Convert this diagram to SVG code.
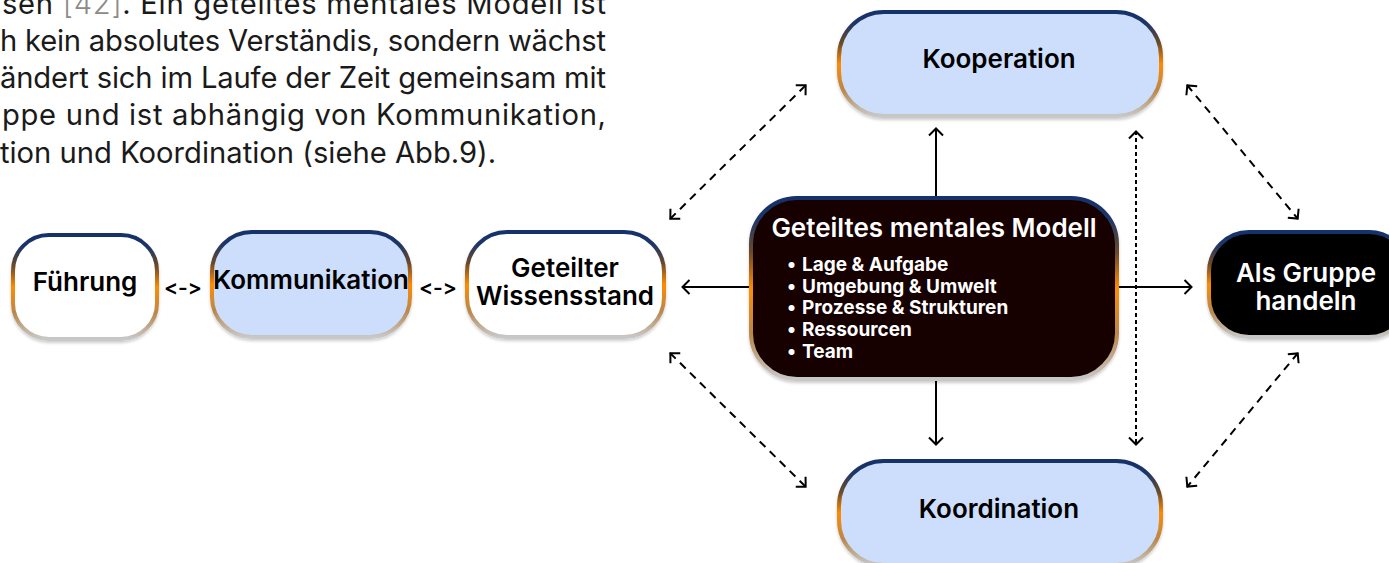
<svg xmlns="http://www.w3.org/2000/svg" width="1389" height="563" viewBox="0 0 1389 563">
  <style>
    text { font-feature-settings: "calt" 0, "liga" 0; font-variant-ligatures: none; }
    .para { font-family: Inter, "Noto Sans", sans-serif; font-size: 29.2px; fill: #1a1a1a; }
    .ref { fill: #8a8a8a; font-weight: 300; }
    .lbl { font-family: Inter, "Noto Sans", sans-serif; font-size: 26px; font-weight: 600; fill: #000; text-anchor: middle; }
    .lbl-w { font-family: Inter, "Noto Sans", sans-serif; font-size: 26px; font-weight: 600; fill: #fff; text-anchor: middle; }
    .title { font-family: Inter, "Noto Sans", sans-serif; font-size: 26px; font-weight: 600; fill: #fff; text-anchor: middle; }
    .bullet { font-family: Inter, "Noto Sans", sans-serif; font-size: 19px; font-weight: 700; fill: #fff; }
    .sym { font-family: Inter, "Noto Sans", sans-serif; font-size: 21px; font-weight: 600; fill: #000; text-anchor: middle; }
    .box { stroke: url(#rim); stroke-width: 4; filter: url(#shadow); }
    .blue { fill: #cddefc; }
    .white { fill: #ffffff; }
    .dark { fill: #130000; }
    .black { fill: #000000; }
    .solid { stroke: #000; stroke-width: 2; fill: none; marker-end: url(#head); }
    .dash { stroke: #000; stroke-width: 2; fill: none; stroke-dasharray: 8 6; marker-start: url(#head); marker-end: url(#head); }
    .dot { stroke: #000; stroke-width: 2; fill: none; stroke-dasharray: 4 3; marker-start: url(#head); marker-end: url(#head); }
  </style>
  <defs>
    <linearGradient id="rim" x1="0" y1="0" x2="0" y2="1">
      <stop offset="0" stop-color="#12306a"/>
      <stop offset="0.12" stop-color="#1f3766"/>
      <stop offset="0.3" stop-color="#6b4a2a"/>
      <stop offset="0.5" stop-color="#ff8c00"/>
      <stop offset="0.75" stop-color="#b8884c"/>
      <stop offset="1" stop-color="#c8c8c8"/>
    </linearGradient>
    <filter id="shadow" x="-10%" y="-10%" width="120%" height="130%">
      <feDropShadow dx="0" dy="2" stdDeviation="1.5" flood-color="#000" flood-opacity="0.2"/>
    </filter>
    <marker id="head" viewBox="0 0 10 16" refX="9" refY="8" markerWidth="10" markerHeight="16" markerUnits="userSpaceOnUse" orient="auto-start-reverse">
      <path d="M1.5,1 L8.5,8 L1.5,15" fill="none" stroke="#000" stroke-width="2"/>
    </marker>
  </defs>

  <!-- running text paragraph, justified lines stretched to the column edge -->
  <g id="paragraph" class="para">
    <text x="2" y="14" textLength="604" lengthAdjust="spacing">sen <tspan class="ref">[42]</tspan>. Ein geteiltes mentales Modell ist</text>
    <text x="0" y="51" textLength="606" lengthAdjust="spacing">h kein absolutes Verständis, sondern wächst</text>
    <text x="0" y="88" textLength="606" lengthAdjust="spacing">ändert sich im Laufe der Zeit gemeinsam mit</text>
    <text x="2" y="125" textLength="604" lengthAdjust="spacing">ppe und ist abhängig von Kommunikation,</text>
    <text x="0" y="163">tion und Koordination (siehe Abb.9).</text>
  </g>

  <!-- connectors -->
  <g id="connectors">
    <line class="solid" x1="751" y1="287" x2="682" y2="287"/>
    <line class="solid" x1="1117" y1="287" x2="1192" y2="287"/>
    <line class="solid" x1="936" y1="197" x2="936" y2="128"/>
    <line class="solid" x1="936" y1="381" x2="936" y2="445"/>
    <line class="dot" x1="1136" y1="131" x2="1136" y2="445"/>
    <line class="dash" x1="670" y1="219" x2="806" y2="85"/>
    <line class="dash" x1="1187" y1="85" x2="1298" y2="219"/>
    <line class="dash" x1="670" y1="353" x2="806" y2="487"/>
    <line class="dash" x1="1298" y1="353" x2="1187" y2="487"/>
    <text class="sym" x="183" y="295">&lt;-&gt;</text>
    <text class="sym" x="438" y="295">&lt;-&gt;</text>
  </g>

  <g id="fuehrung">
    <rect class="box white" x="13" y="235" width="144" height="104" rx="36"/>
    <text class="lbl" x="85" y="291">Führung</text>
  </g>

  <g id="kommunikation">
    <rect class="box blue" x="212" y="232" width="198" height="105" rx="40"/>
    <text class="lbl" x="311" y="289">Kommunikation</text>
  </g>

  <g id="wissensstand">
    <rect class="box white" x="467" y="232" width="197" height="105" rx="40"/>
    <text class="lbl" x="565" y="277">Geteilter</text>
    <text class="lbl" x="565" y="305">Wissensstand</text>
  </g>

  <g id="mentales-modell">
    <rect class="box dark" x="751" y="198" width="366" height="181" rx="46"/>
    <text class="title" x="934" y="237">Geteiltes mentales Modell</text>
    <g class="bullet">
      <text x="787" y="271">•</text><text x="802" y="271">Lage &amp; Aufgabe</text>
      <text x="787" y="293">•</text><text x="802" y="293">Umgebung &amp; Umwelt</text>
      <text x="787" y="314">•</text><text x="802" y="314">Prozesse &amp; Strukturen</text>
      <text x="787" y="336">•</text><text x="802" y="336">Ressourcen</text>
      <text x="787" y="358">•</text><text x="802" y="358">Team</text>
    </g>
  </g>

  <g id="kooperation">
    <rect class="box blue" x="839" y="12" width="322" height="104" rx="45"/>
    <text class="lbl" x="999" y="68">Kooperation</text>
  </g>

  <g id="koordination">
    <rect class="box blue" x="839" y="461" width="322" height="104" rx="45"/>
    <text class="lbl" x="999" y="518">Koordination</text>
  </g>

  <g id="als-gruppe">
    <rect class="box black" x="1209" y="232" width="200" height="105" rx="40"/>
    <text class="lbl-w" x="1306" y="282">Als Gruppe</text>
    <text class="lbl-w" x="1306" y="310">handeln</text>
  </g>
</svg>
